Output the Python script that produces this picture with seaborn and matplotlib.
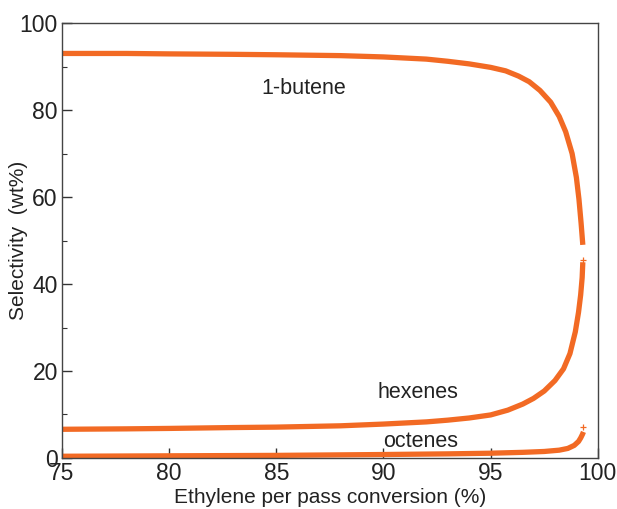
import matplotlib
matplotlib.use("Agg")
import matplotlib.pyplot as plt
import seaborn as sns
import pandas as pd
from matplotlib.ticker import MultipleLocator

# Data
butene_x = [75, 78, 80, 83, 85, 88, 90, 92, 93, 94, 95, 95.7, 96.3, 96.8, 97.3, 97.8, 98.2, 98.5, 98.8, 99.0, 99.12, 99.22, 99.3]
butene_y = [93.0, 93.0, 92.9, 92.8, 92.7, 92.5, 92.2, 91.7, 91.2, 90.6, 89.8, 89.0, 87.8, 86.5, 84.5, 81.8, 78.5, 75.0, 70.0, 64.5, 59.5, 54.0, 49.0]

hexenes_x = [75, 78, 80, 83, 85, 88, 90, 92, 93, 94, 95, 95.8, 96.5, 97.0, 97.5, 98.0, 98.4, 98.7, 98.95, 99.1, 99.2, 99.27, 99.3]
hexenes_y = [6.6, 6.7, 6.8, 7.0, 7.1, 7.4, 7.8, 8.3, 8.7, 9.2, 9.9, 11.0, 12.4, 13.7, 15.4, 17.8, 20.5, 24.0, 29.0, 33.5, 37.5, 41.5, 45.0]

octenes_x = [75, 80, 85, 90, 93, 95, 96.5, 97.5, 98.2, 98.6, 98.9, 99.1, 99.2, 99.28, 99.33]
octenes_y = [0.4, 0.5, 0.6, 0.8, 0.95, 1.1, 1.3, 1.5, 1.8, 2.2, 2.9, 3.8, 4.6, 5.4, 6.0]

marker_x = [99.3, 99.3]
marker_y = [45.6, 7.2]

labels = ["1-butene", "hexenes", "octenes"]
label_x = [86.3, 91.6, 91.75]
label_y = [85.0, 15.0, 3.9]

xticks = [75, 80, 85, 90, 95, 100]
yticks = [0, 20, 40, 60, 80, 100]

sns.set_style("white")
plt.rcParams["font.family"] = ["Liberation Sans", "DejaVu Sans"]

fig = plt.figure(figsize=(6.17, 5.09), dpi=100)
ax = fig.add_axes([0.1005, 0.1002, 0.8684, 0.8546])

color = "#f26a24"
frames = []
for name, xs, ys in [("1-butene", butene_x, butene_y),
                     ("hexenes", hexenes_x, hexenes_y),
                     ("octenes", octenes_x, octenes_y)]:
    frames.append(pd.DataFrame({"x": xs, "y": ys, "series": name}))
df = pd.concat(frames, ignore_index=True)

sns.lineplot(data=df, x="x", y="y", units="series", estimator=None, sort=False,
             color=color, linewidth=3.8, ax=ax, legend=False,
             solid_capstyle="butt")
sns.scatterplot(x=marker_x, y=marker_y, marker="+", color=color, s=18,
                linewidth=0.9, ax=ax, legend=False)

for t, lx, ly in zip(labels, label_x, label_y):
    ax.text(lx, ly, t, ha="center", va="center", fontsize=15.5, color="#222222")

ax.set_xlim(75, 100)
ax.set_ylim(0, 100)
ax.set_xticks(xticks)
ax.set_yticks(yticks)
ax.yaxis.set_minor_locator(MultipleLocator(10))
ax.tick_params(axis="both", which="major", direction="in", length=7, width=1,
               color="#333333", labelsize=16.5, labelcolor="#222222", pad=3,
               bottom=True, left=True, top=False, right=False)
ax.tick_params(axis="y", which="minor", direction="in", length=3.5, width=0.8,
               color="#333333", left=True, right=False)
for s in ax.spines.values():
    s.set_color("#444444")
    s.set_linewidth(1.0)

ax.set_xlabel("Ethylene per pass conversion (%)", fontsize=15, color="#222222", labelpad=2)
ax.set_ylabel("Selectivity  (wt%)", fontsize=15, color="#222222")
ax.yaxis.set_label_coords(-0.064, 0.5)

fig.savefig("out.png", dpi=100)
